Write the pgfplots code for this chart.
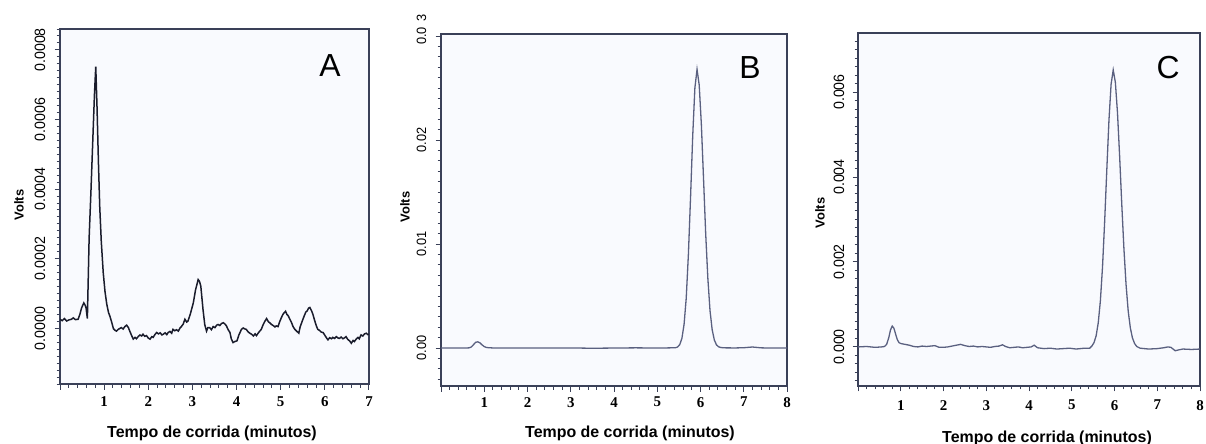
\documentclass[border=0pt]{standalone}
\usepackage{fontspec}
\setmainfont{Liberation Sans}
\newfontfamily\tnr{Liberation Serif}
\newfontfamily\ticksans[FakeStretch=0.95]{Liberation Sans}
\usepackage{pgfplots}
\pgfplotsset{compat=1.18}
\usepackage{pgfplotstable}
\definecolor{axc}{HTML}{3A4058}
\definecolor{lineA}{HTML}{1A1C2C}
\definecolor{lineBC}{HTML}{5A6080}
\definecolor{bgc}{HTML}{F9FAFE}

\pgfplotstableread{
t v
0.00 0.000026
0.05 0.000022
0.10 0.000028
0.15 0.000021
0.20 0.000024
0.26 0.000026
0.30 0.000030
0.35 0.000025
0.41 0.000026
0.45 0.000040
0.49 0.000059
0.54 0.000073
0.57 0.000066
0.59 0.000059
0.62 0.000028
0.66 0.000260
0.70 0.000390
0.74 0.000530
0.78 0.000670
0.81 0.000752
0.84 0.000630
0.87 0.000480
0.90 0.000350
0.935 0.000250
0.98 0.000159
1.02 0.000105
1.06 0.000069
1.10 0.000045
1.13 0.000035
1.17 0.000018
1.21 -0.000001
1.25 -0.000006
1.28 -0.000008
1.32 -0.000003
1.36 0.000000
1.39 0.000002
1.43 -0.000002
1.47 0.000005
1.51 0.000009
1.55 0.000002
1.58 -0.000008
1.62 -0.000020
1.66 -0.000031
1.70 -0.000026
1.73 -0.000030
1.77 -0.000024
1.81 -0.000019
1.85 -0.000022
1.88 -0.000017
1.92 -0.000023
1.96 -0.000021
2.00 -0.000028
2.04 -0.000031
2.08 -0.000024
2.11 -0.000026
2.15 -0.000018
2.19 -0.000012
2.23 -0.000016
2.27 -0.000013
2.31 -0.000019
2.34 -0.000017
2.38 -0.000013
2.42 -0.000018
2.45 -0.000012
2.49 -0.000009
2.53 -0.000014
2.56 -0.000003
2.60 -0.000007
2.64 -0.000004
2.68 -0.000008
2.72 0.000001
2.75 0.000005
2.79 0.000012
2.83 0.000026
2.87 0.000018
2.90 0.000021
2.95 0.000040
3.02 0.000073
3.07 0.000110
3.13 0.000140
3.16 0.000135
3.19 0.000121
3.24 0.000054
3.28 0.000010
3.32 -0.000008
3.35 0.000002
3.39 0.000002
3.43 -0.000004
3.47 0.000005
3.51 0.000002
3.55 0.000009
3.58 0.000011
3.62 0.000008
3.66 0.000014
3.70 0.000016
3.74 0.000012
3.77 0.000007
3.81 -0.000004
3.85 -0.000012
3.88 -0.000030
3.92 -0.000041
3.96 -0.000038
4.01 -0.000036
4.05 -0.000020
4.11 -0.000003
4.15 0.000001
4.19 -0.000002
4.22 -0.000003
4.26 -0.000010
4.30 -0.000014
4.34 -0.000017
4.38 -0.000022
4.42 -0.000016
4.45 -0.000021
4.50 -0.000012
4.56 -0.000003
4.60 0.000010
4.64 0.000020
4.68 0.000028
4.72 0.000019
4.76 0.000015
4.79 0.000011
4.83 0.000008
4.87 0.000004
4.90 0.000007
4.94 0.000005
4.98 0.000020
5.02 0.000032
5.05 0.000040
5.08 0.000045
5.11 0.000049
5.14 0.000040
5.17 0.000036
5.20 0.000028
5.24 0.000018
5.28 0.000005
5.32 -0.000003
5.36 -0.000008
5.41 -0.000014
5.44 0.000004
5.46 0.000011
5.50 0.000025
5.54 0.000038
5.57 0.000047
5.60 0.000050
5.63 0.000058
5.66 0.000060
5.70 0.000050
5.73 0.000040
5.77 0.000022
5.81 0.000006
5.84 -0.000003
5.88 -0.000006
5.92 -0.000011
5.96 -0.000012
6.00 -0.000020
6.04 -0.000028
6.07 -0.000033
6.11 -0.000027
6.15 -0.000030
6.18 -0.000026
6.22 -0.000029
6.26 -0.000024
6.30 -0.000028
6.33 -0.000029
6.37 -0.000025
6.41 -0.000030
6.45 -0.000027
6.48 -0.000024
6.52 -0.000032
6.56 -0.000036
6.60 -0.000043
6.64 -0.000035
6.67 -0.000038
6.71 -0.000031
6.75 -0.000026
6.78 -0.000030
6.82 -0.000019
6.86 -0.000022
6.90 -0.000016
6.94 -0.000014
6.97 -0.000018
7.00 -0.000017
}\dataA

\pgfplotstableread{
t v
0.00 0.00000
0.30 0.00000
0.60 0.00001
0.65 0.00002
0.70 0.00010
0.75 0.00032
0.80 0.00055
0.85 0.00060
0.90 0.00050
0.95 0.00030
1.00 0.00014
1.05 0.00006
1.10 0.00003
1.20 0.00001
1.50 0.00000
2.00 0.00001
2.50 0.00000
3.00 0.00001
3.50 -0.00002
4.00 0.00000
4.50 0.00002
5.00 0.00000
5.20 0.00001
5.42 0.00003
5.47 0.00010
5.52 0.00033
5.57 0.00093
5.62 0.00227
5.67 0.0048
5.72 0.0090
5.77 0.0145
5.82 0.0204
5.87 0.0250
5.92 0.0268
5.97 0.0253
6.02 0.0215
6.07 0.0163
6.12 0.0110
6.17 0.0067
6.22 0.0036
6.27 0.00176
6.32 0.00077
6.37 0.00030
6.42 0.00012
6.47 0.00005
6.55 0.00002
6.80 0.00001
7.00 0.00003
7.20 0.00010
7.40 0.00002
7.60 0.00000
8.00 0.00000
}\dataB

\pgfplotstableread{
t v
0.00 0.00000
0.20 0.00001
0.40 -0.00001
0.55 0.00000
0.62 0.00001
0.67 0.00006
0.72 0.00022
0.76 0.00040
0.80 0.00049
0.84 0.00044
0.88 0.00030
0.92 0.00017
0.96 0.00010
1.00 0.00008
1.10 0.00006
1.20 0.00004
1.30 0.00001
1.40 0.00000
1.50 0.00002
1.60 0.00001
1.70 0.00002
1.80 0.00003
1.90 -0.00001
2.00 -0.00001
2.10 0.00000
2.20 0.00002
2.30 0.00004
2.40 0.00006
2.50 0.00003
2.60 0.00001
2.70 0.00002
2.80 0.00000
2.90 0.00001
3.00 0.00000
3.10 -0.00001
3.20 0.00001
3.30 0.00002
3.38 0.00005
3.45 0.00001
3.55 -0.00002
3.65 -0.00001
3.75 0.00000
3.85 -0.00002
3.95 -0.00001
4.05 0.00000
4.12 0.00004
4.20 -0.00002
4.35 -0.00004
4.50 -0.00003
4.65 -0.00005
4.80 -0.00004
4.95 -0.00003
5.10 -0.00005
5.30 -0.00003
5.42 -0.00003
5.47 0.00002
5.52 0.00010
5.57 0.00026
5.62 0.00057
5.67 0.00109
5.72 0.00189
5.77 0.00296
5.82 0.00417
5.87 0.00533
5.92 0.00618
5.97 0.00652
6.02 0.00623
6.07 0.00551
6.12 0.00449
6.17 0.00336
6.22 0.00232
6.27 0.00147
6.32 0.00085
6.37 0.00045
6.42 0.00021
6.47 0.00008
6.52 0.00001
6.60 -0.00003
6.80 -0.00005
7.00 -0.00004
7.15 -0.00002
7.25 0.00000
7.32 -0.00001
7.42 -0.00009
7.50 -0.00007
7.60 -0.00005
7.80 -0.00006
8.00 -0.00005
}\dataC

\pgfplotsset{chrom/.style={
  scale only axis, anchor=south west,
  axis background/.style={fill=bgc},
  axis line style={draw=axc, line width=1.2bp},
  tick style={draw=axc, line width=1bp},
  tick align=outside,
  xtick pos=left, ytick pos=left,
  major tick length=5.5bp, minor tick length=3.5bp,
  minor x tick num=4, minor y tick num=9,
  xticklabel style={font=\tnr\bfseries\fontsize{15}{16}\selectfont, inner sep=0pt},
  yticklabel style={rotate=90, anchor=south, inner sep=0pt,
    /pgf/number format/fixed, /pgf/number format/fixed zerofill,
    /pgf/number format/assume math mode=true},
  scaled y ticks=false,
  every axis plot/.append style={line width=1.3bp},
}}

\begin{document}
\begin{tikzpicture}
\useasboundingbox (0,0) rectangle (1206bp,444bp);

% Panel A
\begin{axis}[chrom, at={(60bp,60bp)}, width=309bp, height=355bp,
  xmin=0, xmax=7, ymin=-0.00016, ymax=0.00086,
  xtick={0,1,2,3,4,5,6,7}, xticklabels={,1,2,3,4,5,6,7},
  ytick={-0.0002,0,0.0002,0.0004,0.0006,0.0008,0.001},
  yticklabel style={font=\ticksans\fontsize{15}{16}\selectfont, /pgf/number format/precision=4},
  xticklabel shift=7bp, yticklabel shift=9bp]
\addplot[lineA, line width=1.5bp] table[x=t, y=v] {\dataA};
\end{axis}

% Panel B
\begin{axis}[chrom, at={(441bp,58bp)}, width=346bp, height=352bp,
  xmin=0, xmax=8, ymin=-0.00365, ymax=0.0302,
  xtick={0,1,2,3,4,5,6,7,8}, xticklabels={,1,2,3,4,5,6,7,8},
  ytick={-0.01,0,0.01,0.02,0.03,0.04},
  yticklabels={,0.00,0.01,0.02,{0.0\rlap{\hspace{6bp}3}},},
  yticklabel style={font=\ticksans\fontsize{13.5}{15}\selectfont},
  xticklabel shift=5.5bp, yticklabel shift=9bp]
\addplot[lineBC] table[x=t, y=v] {\dataB};
\end{axis}

% Panel C
\begin{axis}[chrom, at={(858bp,58bp)}, width=342bp, height=353bp,
  xmin=0, xmax=8, ymin=-0.00092, ymax=0.00739,
  xtick={0,1,2,3,4,5,6,7,8}, xticklabels={,1,2,3,4,5,6,7,8},
  ytick={-0.002,0,0.002,0.004,0.006,0.008},
  yticklabel style={font=\ticksans\fontsize{15}{16}\selectfont, /pgf/number format/precision=3},
  xticklabel shift=8.5bp, yticklabel shift=8bp]
\addplot[lineBC] table[x=t, y=v] {\dataC};
\end{axis}

% Panel letters
\node[inner sep=0pt, font=\fontsize{32}{36}\selectfont] at (330bp,378bp) {A};
\node[inner sep=0pt, font=\fontsize{32}{36}\selectfont] at (750bp,376bp) {B};
\node[inner sep=0pt, font=\fontsize{32}{36}\selectfont] at (1168bp,376bp) {C};

% Axis titles
\node[rotate=90, inner sep=0pt, font=\bfseries\fontsize{13}{15}\selectfont] at (19bp,239bp) {Volts};
\node[rotate=90, inner sep=0pt, font=\bfseries\fontsize{13}{15}\selectfont] at (405bp,237bp) {Volts};
\node[rotate=90, inner sep=0pt, font=\bfseries\fontsize{13}{15}\selectfont] at (820bp,231bp) {Volts};

\node[inner sep=0pt, font=\bfseries\fontsize{16}{18}\selectfont] at (212bp,11bp) {Tempo de corrida (minutos)};
\node[inner sep=0pt, font=\bfseries\fontsize{16}{18}\selectfont] at (630bp,11bp) {Tempo de corrida (minutos)};
\node[inner sep=0pt, font=\bfseries\fontsize{16}{18}\selectfont] at (1047bp,6bp) {Tempo de corrida (minutos)};
\end{tikzpicture}
\end{document}
